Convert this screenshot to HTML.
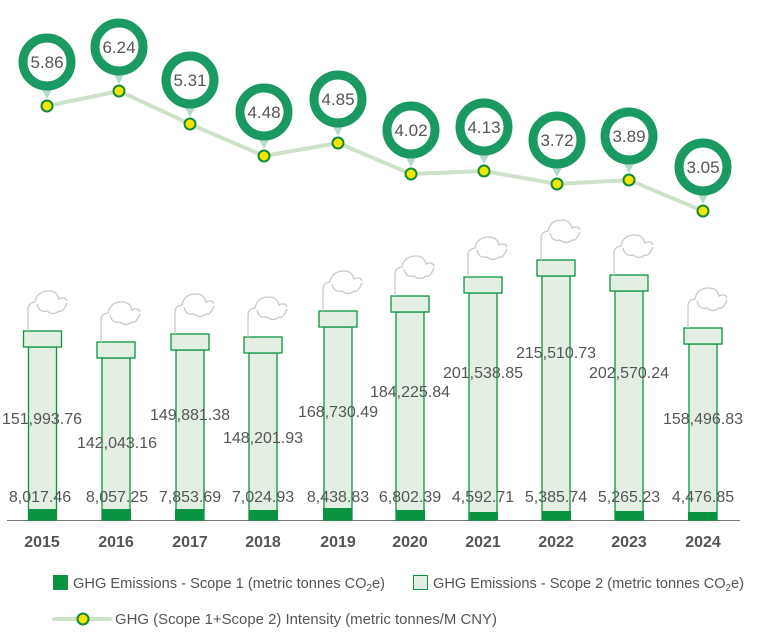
<!DOCTYPE html>
<html><head><style>
body{margin:0;background:#fff;}
svg{display:block;font-family:"Liberation Sans","DejaVu Sans",sans-serif;}
</style></head><body>
<svg width="758" height="641" viewBox="0 0 758 641" xmlns="http://www.w3.org/2000/svg">
<defs>
<g id="smoke"><path d="M-15,0 V-22 Q-15,-28 -8,-29 Q-6,-40 6,-40 Q14,-40 16,-32 Q22,-35 24,-30 M-6,-27 Q-4,-18 4,-20 Q10,-15 16,-20 Q20,-18 24,-28" fill="none" stroke="#c9c9c9" stroke-width="1.3"/></g>
</defs>
<line x1="7" y1="520.5" x2="740" y2="520.5" stroke="#777" stroke-width="1"/>
<g fill="#e4efe3" stroke="#0a9340" stroke-width="1.3">
<rect x="28.5" y="347" width="28" height="173"/><rect x="23.5" y="331" width="38" height="16"/>
<rect x="102" y="358" width="28" height="162"/><rect x="97" y="342" width="38" height="16"/>
<rect x="176" y="350" width="28" height="170"/><rect x="171" y="334" width="38" height="16"/>
<rect x="249" y="353" width="28" height="167"/><rect x="244" y="337" width="38" height="16"/>
<rect x="324" y="327" width="28" height="193"/><rect x="319" y="311" width="38" height="16"/>
<rect x="396" y="312" width="28" height="208"/><rect x="391" y="296" width="38" height="16"/>
<rect x="469" y="293" width="28" height="227"/><rect x="464" y="277" width="38" height="16"/>
<rect x="542" y="276" width="28" height="244"/><rect x="537" y="260" width="38" height="16"/>
<rect x="615" y="291" width="28" height="229"/><rect x="610" y="275" width="38" height="16"/>
<rect x="689" y="344" width="28" height="176"/><rect x="684" y="328" width="38" height="16"/>
</g>
<g fill="#0a9340">
<rect x="28" y="509" width="29" height="11"/>
<rect x="102" y="509" width="29" height="11"/>
<rect x="175" y="509" width="29" height="11"/>
<rect x="249" y="510" width="29" height="10"/>
<rect x="323" y="508" width="29" height="12"/>
<rect x="396" y="510" width="29" height="10"/>
<rect x="469" y="512" width="29" height="8"/>
<rect x="542" y="511" width="29" height="9"/>
<rect x="615" y="511" width="29" height="9"/>
<rect x="688" y="512" width="29" height="8"/>
</g>
<g>
<use href="#smoke" x="43" y="331"/><use href="#smoke" x="116" y="342"/><use href="#smoke" x="190" y="334"/>
<use href="#smoke" x="263" y="337"/><use href="#smoke" x="338" y="311"/><use href="#smoke" x="410" y="296"/>
<use href="#smoke" x="483" y="277"/><use href="#smoke" x="556" y="260"/><use href="#smoke" x="629" y="275"/>
<use href="#smoke" x="703" y="328"/>
</g>
<g font-size="16" fill="#555" text-anchor="middle">
<text x="42" y="424">151,993.76</text>
<text x="117" y="448">142,043.16</text>
<text x="190" y="420">149,881.38</text>
<text x="263" y="443">148,201.93</text>
<text x="338" y="417">168,730.49</text>
<text x="410" y="397">184,225.84</text>
<text x="483" y="378">201,538.85</text>
<text x="556" y="358">215,510.73</text>
<text x="629" y="378">202,570.24</text>
<text x="703" y="424">158,496.83</text>
<text x="40" y="502">8,017.46</text>
<text x="117" y="502">8,057.25</text>
<text x="190" y="502">7,853.69</text>
<text x="263" y="502">7,024.93</text>
<text x="338" y="502">8,438.83</text>
<text x="410" y="502">6,802.39</text>
<text x="483" y="502">4,592.71</text>
<text x="556" y="502">5,385.74</text>
<text x="629" y="502">5,265.23</text>
<text x="703" y="502">4,476.85</text>
</g>
<g font-size="16" font-weight="bold" fill="#555" text-anchor="middle">
<text x="42" y="547">2015</text><text x="116" y="547">2016</text><text x="190" y="547">2017</text>
<text x="263" y="547">2018</text><text x="338" y="547">2019</text><text x="410" y="547">2020</text>
<text x="483" y="547">2021</text><text x="556" y="547">2022</text><text x="629" y="547">2023</text>
<text x="703" y="547">2024</text>
</g>
<polyline points="47,106 119,91 190,124 264,156 338,143 411,174 484,171 557,184 629,180 703,211" fill="none" stroke="#cde2c9" stroke-width="4"/>
<g fill="#b5dccb">
<path d="M41,88 L53,88 L47,99Z"/><path d="M113,73 L125,73 L119,84Z"/><path d="M184,106 L196,106 L190,117Z"/>
<path d="M258,138 L270,138 L264,149Z"/><path d="M332,125 L344,125 L338,136Z"/><path d="M405,156 L417,156 L411,167Z"/>
<path d="M478,153 L490,153 L484,164Z"/><path d="M551,166 L563,166 L557,177Z"/><path d="M623,162 L635,162 L629,173Z"/>
<path d="M697,193 L709,193 L703,204Z"/>
</g>
<g fill="#fff" stroke="#1a9a62" stroke-width="9">
<circle cx="47" cy="62" r="24"/><circle cx="119" cy="47" r="24"/><circle cx="190" cy="80" r="24"/>
<circle cx="264" cy="112" r="24"/><circle cx="338" cy="99" r="24"/><circle cx="411" cy="130" r="24"/>
<circle cx="484" cy="127" r="24"/><circle cx="557" cy="140" r="24"/><circle cx="629" cy="136" r="24"/>
<circle cx="703" cy="167" r="24"/>
</g>
<g font-size="17" fill="#555" text-anchor="middle">
<text x="47" y="68">5.86</text><text x="119" y="53">6.24</text><text x="190" y="86">5.31</text>
<text x="264" y="118">4.48</text><text x="338" y="105">4.85</text><text x="411" y="136">4.02</text>
<text x="484" y="133">4.13</text><text x="557" y="146">3.72</text><text x="629" y="142">3.89</text>
<text x="703" y="173">3.05</text>
</g>
<g fill="#f5e600" stroke="#138a3a" stroke-width="2">
<circle cx="47" cy="106" r="5.5"/><circle cx="119" cy="91" r="5.5"/><circle cx="190" cy="124" r="5.5"/>
<circle cx="264" cy="156" r="5.5"/><circle cx="338" cy="143" r="5.5"/><circle cx="411" cy="174" r="5.5"/>
<circle cx="484" cy="171" r="5.5"/><circle cx="557" cy="184" r="5.5"/><circle cx="629" cy="180" r="5.5"/>
<circle cx="703" cy="211" r="5.5"/>
</g>
<rect x="53" y="575" width="15" height="15" fill="#0a9340"/>
<text x="73" y="588" font-size="15" fill="#555" textLength="312" lengthAdjust="spacingAndGlyphs">GHG Emissions - Scope 1 (metric tonnes CO<tspan font-size="10" dy="3">2</tspan><tspan dy="-3">e)</tspan></text>
<rect x="413.5" y="575.5" width="14" height="14" fill="#e4efe3" stroke="#0a9340"/>
<text x="433" y="588" font-size="15" fill="#555" textLength="311" lengthAdjust="spacingAndGlyphs">GHG Emissions - Scope 2 (metric tonnes CO<tspan font-size="10" dy="3">2</tspan><tspan dy="-3">e)</tspan></text>
<line x1="54" y1="619" x2="110" y2="619" stroke="#cde2c9" stroke-width="4" stroke-linecap="round"/>
<circle cx="83" cy="619" r="5.5" fill="#f5e600" stroke="#138a3a" stroke-width="2"/>
<text x="115" y="624" font-size="15" fill="#555" textLength="382" lengthAdjust="spacingAndGlyphs">GHG (Scope 1+Scope 2) Intensity (metric tonnes/M CNY)</text>
</svg>
</body></html>
